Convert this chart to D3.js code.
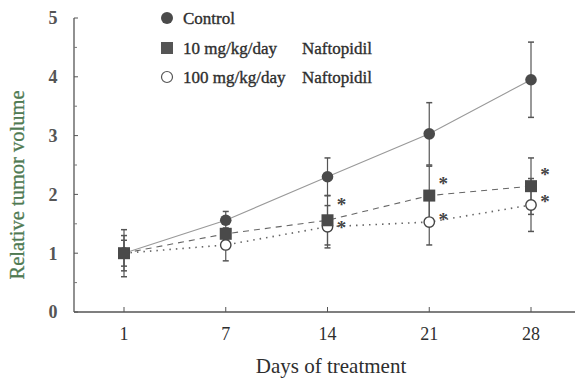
<!DOCTYPE html>
<html>
<head>
<meta charset="utf-8">
<script src="https://cdn.jsdelivr.net/npm/d3@7"></script>
<style>
  html, body { margin: 0; padding: 0; background: #fff; }
  svg { display: block; }
  text { font-family: "Liberation Serif", "DejaVu Serif", serif; }
</style>
</head>
<body>
<svg id="chart" width="575" height="380"></svg>
<script>
// Treatment days (categorical, evenly spaced)
const days = ["1", "7", "14", "21", "28"];
const yTicks = [0, 1, 2, 3, 4, 5];

// Relative tumor volume, mean and error (±)
const controlMean = [1.0, 1.56, 2.30, 3.03, 3.95];
const controlErr  = [0.40, 0.15, 0.32, 0.53, 0.64];
const lowMean     = [1.0, 1.33, 1.56, 1.98, 2.14];
const lowErr      = [0.22, 0.10, 0.42, 0.50, 0.48];
const highMean    = [1.0, 1.14, 1.45, 1.53, 1.82];
const highErr     = [0.30, 0.27, 0.36, 0.39, 0.45];

// Significance markers: which days carry an asterisk per treated group
const lowSig  = [false, false, true, true, true];
const highSig = [false, false, true, true, true];

// Legend entries: group name and drug
const groupNames = ["Control", "10 mg/kg/day", "100 mg/kg/day"];
const drugNames  = ["", "Naftopidil", "Naftopidil"];

const svg = d3.select("#chart");
const axisX = 74;

const x = d3.scalePoint().domain(days).range([124, 531]);
const y = d3.scaleLinear().domain([0, 5]).range([312, 18]);

const ink = "#2e2e2e";

// Y axis with inward ticks (major at integers, minor at halves)
const yAxisG = svg.append("g").attr("transform", `translate(${axisX},0)`);
yAxisG.append("line")
  .attr("x1", 0).attr("x2", 0)
  .attr("y1", y(5)).attr("y2", y(0))
  .attr("stroke", "#555").attr("stroke-width", 1.3);
const minor = d3.range(0.5, 5, 1);
yAxisG.selectAll(".ymaj").data(yTicks).join("line")
  .attr("x1", 0).attr("x2", 4)
  .attr("y1", d => y(d)).attr("y2", d => y(d))
  .attr("stroke", "#555");
yAxisG.selectAll(".ymin").data(minor).join("line")
  .attr("x1", 0).attr("x2", 3)
  .attr("y1", d => y(d)).attr("y2", d => y(d))
  .attr("stroke", "#777");
yAxisG.selectAll(".ylab").data(yTicks).join("text")
  .attr("x", -21).attr("y", d => y(d))
  .attr("dy", "0.35em")
  .attr("text-anchor", "middle")
  .attr("font-size", 18).attr("font-weight", "bold")
  .attr("fill", "#555")
  .text(d => d);

// X axis with inward ticks
const xAxisG = svg.append("g");
xAxisG.append("line")
  .attr("x1", axisX).attr("x2", 575)
  .attr("y1", y(0)).attr("y2", y(0))
  .attr("stroke", "#555").attr("stroke-width", 1.3);
xAxisG.selectAll(".xt").data(days).join("line")
  .attr("x1", d => x(d)).attr("x2", d => x(d))
  .attr("y1", y(0)).attr("y2", y(0) - 5)
  .attr("stroke", "#555");
xAxisG.selectAll(".xl").data(days).join("text")
  .attr("x", d => x(d)).attr("y", 334)
  .attr("dy", "0.35em")
  .attr("text-anchor", "middle")
  .attr("font-size", 18)
  .attr("fill", ink)
  .text(d => d);

// Axis titles
svg.append("text")
  .attr("x", 331).attr("y", 366)
  .attr("dy", "0.35em")
  .attr("text-anchor", "middle")
  .attr("font-size", 21)
  .attr("fill", ink)
  .text("Days of treatment");
svg.append("text")
  .attr("transform", "translate(17,185) rotate(-90)")
  .attr("dy", "0.35em")
  .attr("text-anchor", "middle")
  .attr("font-size", 20.5)
  .attr("fill", "#4f7a52").attr("stroke", "#4f7a52").attr("stroke-width", 0.3)
  .text("Relative tumor volume");

const series = [
  { mean: highMean, err: highErr, dash: "1.5,5", shape: "open" },
  { mean: lowMean,  err: lowErr,  dash: "6,5",   shape: "square" },
  { mean: controlMean, err: controlErr, dash: null, shape: "dot" }
];

const line = d3.line().x((d, i) => x(days[i])).y(d => y(d));

// Error bars
series.forEach(s => {
  const g = svg.append("g");
  s.mean.forEach((m, i) => {
    const cx = x(days[i]);
    g.append("line")
      .attr("x1", cx).attr("x2", cx)
      .attr("y1", y(m + s.err[i])).attr("y2", y(m - s.err[i]))
      .attr("stroke", "#555").attr("stroke-width", 1.2);
    [m + s.err[i], m - s.err[i]].forEach(v => {
      g.append("line")
        .attr("x1", cx - 3).attr("x2", cx + 3)
        .attr("y1", y(v)).attr("y2", y(v))
        .attr("stroke", "#555").attr("stroke-width", 1.5);
    });
  });
});

// Connecting lines
series.forEach(s => {
  svg.append("path")
    .datum(s.mean)
    .attr("d", line)
    .attr("fill", "none")
    .attr("stroke", s.shape === "dot" ? "#999" : "#666")
    .attr("stroke-width", s.shape === "open" ? 1.6 : 1.1)
    .attr("stroke-dasharray", s.dash);
});

// Markers
series.forEach(s => {
  const g = svg.append("g");
  s.mean.forEach((m, i) => {
    const cx = x(days[i]), cy = y(m);
    if (s.shape === "dot") {
      g.append("circle").attr("cx", cx).attr("cy", cy).attr("r", 5.8).attr("fill", "#4a4a4a");
    } else if (s.shape === "square") {
      g.append("rect").attr("x", cx - 6).attr("y", cy - 6).attr("width", 12).attr("height", 12).attr("fill", "#4a4a4a");
    } else {
      g.append("circle").attr("cx", cx).attr("cy", cy).attr("r", 5.2).attr("fill", "#fff").attr("stroke", "#444").attr("stroke-width", 1.4);
    }
  });
});

// Asterisks beside treated groups; pushed apart when the two would crowd
const starSize = 19, minGap = 23;
days.forEach((d, i) => {
  let cLow = lowSig[i] ? y(lowMean[i]) - 15 : null;
  let cHigh = highSig[i] ? y(highMean[i]) - 6 : null;
  if (cLow !== null && cHigh !== null && cHigh - cLow < minGap) {
    const shift = (minGap - (cHigh - cLow)) / 2;
    cLow -= shift; cHigh += shift;
  }
  [cLow, cHigh].filter(c => c !== null).forEach(c => {
    svg.append("text")
      .attr("x", x(d) + 14)
      .attr("y", c + starSize * 0.5)
      .attr("text-anchor", "middle")
      .attr("font-size", starSize).attr("font-weight", "bold")
      .attr("fill", "#444")
      .text("*");
  });
});

// Legend
const leg = svg.append("g");
const lx = 167, ly = [18, 48, 77];
leg.append("circle").attr("cx", lx).attr("cy", ly[0]).attr("r", 6).attr("fill", "#4a4a4a");
leg.append("rect").attr("x", lx - 6).attr("y", ly[1] - 6).attr("width", 12).attr("height", 12).attr("fill", "#555");
leg.append("circle").attr("cx", lx).attr("cy", ly[2]).attr("r", 5.5).attr("fill", "#fff").attr("stroke", "#555").attr("stroke-width", 1.2);
leg.selectAll(".gname").data(groupNames).join("text")
  .attr("x", lx + 16).attr("y", (d, i) => ly[i])
  .attr("dy", "0.35em")
  .attr("font-size", 17)
  .attr("fill", ink).attr("stroke", ink).attr("stroke-width", 0.35)
  .text(d => d);
leg.selectAll(".dname").data(drugNames).join("text")
  .attr("x", 302).attr("y", (d, i) => ly[i])
  .attr("dy", "0.35em")
  .attr("font-size", 17)
  .attr("fill", ink).attr("stroke", ink).attr("stroke-width", 0.35)
  .text(d => d);
</script>
</body>
</html>
